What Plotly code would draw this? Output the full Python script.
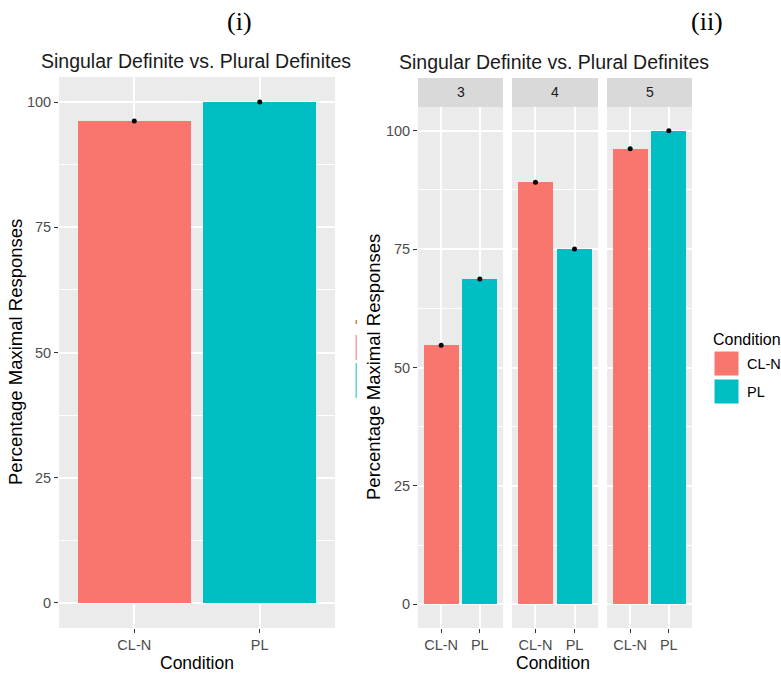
import plotly.graph_objects as go

# ---- data ----
conditions = ["CL-N", "PL"]
overall_pct = [96.2, 100.0]            # panel (i)
set_sizes = ["3", "4", "5"]            # facets of panel (ii)
cln_by_size = [54.7, 89.1, 96.2]
pl_by_size = [68.7, 75.0, 100.0]
y_ticks = [0, 25, 50, 75, 100]

COL = {"CL-N": "#F8766D", "PL": "#00BFC4"}
W, H = 781, 679
FONT = "Liberation Sans, Arial, sans-serif"
SERIF = "Liberation Serif, Times New Roman, serif"
TICK_GREY = "#4D4D4D"
TICK_SIZE = 14.5


def px_x(x):
    return x / W


def px_y(y):
    return 1 - y / H


fig = go.Figure()

# panel geometry (pixels)
left_panel = (59, 335)
facet_panels = [(418, 503), (512, 598), (607, 692)]
left_top, right_top, panel_bottom = 77, 107, 628
strip_top = 78

xpos = [0, 1]


def add_bars(values, xa, ya):
    for i, c in enumerate(conditions):
        fig.add_trace(go.Bar(
            x=[xpos[i]], y=[values[i]], width=0.9,
            marker=dict(color=COL[c], line=dict(width=0)),
            xaxis=xa, yaxis=ya, showlegend=False, hoverinfo="skip"))
    # small error marks at bar tops
    fig.add_trace(go.Scatter(
        x=xpos, y=values, mode="markers",
        marker=dict(color="black", size=5, symbol="circle"),
        xaxis=xa, yaxis=ya, showlegend=False, hoverinfo="skip"))


add_bars(overall_pct, "x", "y")
for k in range(3):
    add_bars([cln_by_size[k], pl_by_size[k]], f"x{k + 2}", f"y{k + 2}")

xcommon = dict(
    tickvals=xpos, ticktext=conditions, range=[-0.6, 1.6],
    showgrid=True, gridcolor="white", gridwidth=1.6, zeroline=False,
    ticks="outside", ticklen=4, tickcolor="#333333", tickwidth=1,
    tickfont=dict(family=FONT, size=TICK_SIZE, color=TICK_GREY), fixedrange=True)
ycommon = dict(
    range=[-5, 105], tickvals=y_ticks, showgrid=True, gridcolor="white",
    gridwidth=1.6, zeroline=False, ticks="outside", ticklen=4,
    tickcolor="#333333", tickwidth=1,
    tickfont=dict(family=FONT, size=TICK_SIZE, color=TICK_GREY),
    minor=dict(tickvals=[12.5, 37.5, 62.5, 87.5], showgrid=True,
               gridcolor="white", gridwidth=0.8, ticks=""),
    fixedrange=True)

layout_axes = {}
layout_axes["xaxis"] = dict(xcommon, domain=[px_x(left_panel[0]), px_x(left_panel[1])], anchor="y")
layout_axes["yaxis"] = dict(ycommon, domain=[px_y(panel_bottom), px_y(left_top)], anchor="x")
for k, (x0, x1) in enumerate(facet_panels):
    n = k + 2
    layout_axes[f"xaxis{n}"] = dict(xcommon, domain=[px_x(x0), px_x(x1)], anchor=f"y{n}")
    ya = dict(ycommon, domain=[px_y(panel_bottom), px_y(right_top)], anchor=f"x{n}")
    if k > 0:
        ya["showticklabels"] = False
        ya["ticks"] = ""
    layout_axes[f"yaxis{n}"] = ya

shapes = []
annotations = []

# facet strips
for k, (x0, x1) in enumerate(facet_panels):
    shapes.append(dict(type="rect", xref="paper", yref="paper",
                       x0=px_x(x0), x1=px_x(x1), y0=px_y(right_top), y1=px_y(strip_top),
                       fillcolor="#D9D9D9", line=dict(width=0), layer="below"))
    annotations.append(dict(x=px_x((x0 + x1) / 2), y=px_y((strip_top + right_top) / 2),
                            xref="paper", yref="paper", text=set_sizes[k], showarrow=False,
                            font=dict(family=FONT, size=14, color="#1A1A1A"),
                            xanchor="center", yanchor="middle"))


def text_at(x, y, s, size, color="black", family=FONT, angle=0, xanchor="center"):
    annotations.append(dict(x=px_x(x), y=px_y(y), xref="paper", yref="paper",
                            text=s, showarrow=False, textangle=angle,
                            font=dict(family=family, size=size, color=color),
                            xanchor=xanchor, yanchor="middle"))


# panel labels
text_at(240, 22, "(i)", 26, family=SERIF)
text_at(707, 21, "(ii)", 26, family=SERIF)

# plot titles
title = "Singular Definite vs. Plural Definites"
text_at(196, 61, title, 19.5, color="#1A1A1A")
text_at(554, 62, title, 19.5, color="#1A1A1A")

# axis titles
text_at(197, 663, "Condition", 17.5)
text_at(553, 663, "Condition", 17.5)
text_at(15, 352, "Percentage Maximal Responses", 18.5, angle=-90)
text_at(373, 367, "Percentage Maximal Responses", 18.5, angle=-90)

# legend
text_at(711, 339, "Condition", 16, xanchor="left")
for i, c in enumerate(conditions):
    top = 351 + i * 28
    shapes.append(dict(type="rect", xref="paper", yref="paper",
                       x0=px_x(714), x1=px_x(739), y0=px_y(top + 25), y1=px_y(top),
                       fillcolor=COL[c], line=dict(width=1, color="white")))
    text_at(745, top + 13, c, 14.5, xanchor="left")

# thin edge of a cropped key between the two panels
shapes.append(dict(type="rect", xref="paper", yref="paper",
                   x0=px_x(355.5), x1=px_x(357), y0=px_y(360), y1=px_y(335),
                   fillcolor="#F7A29C", line=dict(width=0)))
shapes.append(dict(type="rect", xref="paper", yref="paper",
                   x0=px_x(355.5), x1=px_x(357), y0=px_y(398), y1=px_y(363),
                   fillcolor="#63D3D6", line=dict(width=0)))
shapes.append(dict(type="rect", xref="paper", yref="paper",
                   x0=px_x(355.5), x1=px_x(357), y0=px_y(324), y1=px_y(320),
                   fillcolor="#C8864A", line=dict(width=0)))

fig.update_layout(
    width=W, height=H, margin=dict(l=0, r=0, t=0, b=0),
    paper_bgcolor="white", plot_bgcolor="#EBEBEB",
    showlegend=False, bargap=0, shapes=shapes, annotations=annotations,
    **layout_axes)

fig.write_html("out.html")
